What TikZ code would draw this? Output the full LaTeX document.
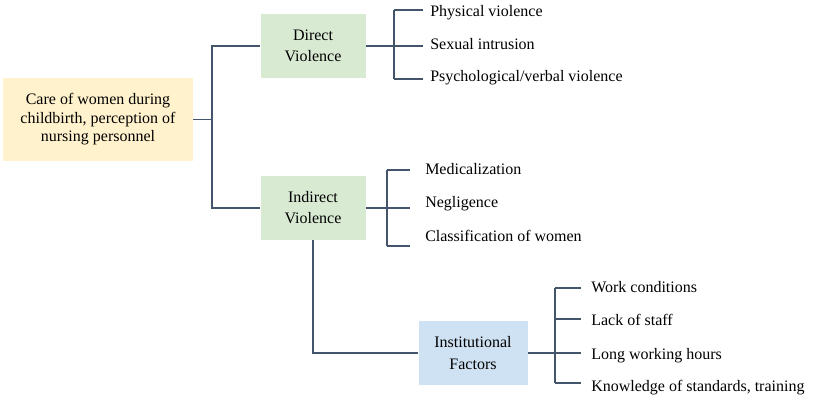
\documentclass[tikz,border=0pt]{standalone}
\usepackage{fontspec}
\setmainfont{Liberation Serif}
\usetikzlibrary{calc,positioning}
\definecolor{lnc}{HTML}{44546A}
\definecolor{rootf}{HTML}{FFF2CC}
\definecolor{viof}{HTML}{D9EAD3}
\definecolor{instf}{HTML}{CFE2F3}

\begin{document}
\begin{tikzpicture}[x=0.75pt, y=-0.75pt,
  box/.style={align=center, inner sep=0pt, minimum width=78.75pt, minimum height=48pt, font=\fontsize{12}{15.8}\selectfont},
  lf/.style={anchor=base west, inner sep=0pt, font=\fontsize{12}{14}\selectfont},
  ln/.style={draw=lnc, line width=1.3pt}]
\useasboundingbox (0,0) rectangle (817,402);
%main node
\node[box, fill=rootf, minimum width=142.5pt, minimum height=62.25pt, font=\fontsize{12}{13.9}\selectfont] (root) at (98,119.5) {Care of women during\\childbirth, perception of\\nursing personnel};
\node[box, fill=viof] (dv) at (313,46) {Direct\\Violence};
\node[box, fill=viof] (iv) at (313,208) {Indirect\\Violence};
\node[box, fill=instf, minimum width=81.75pt] (inst) at (473,353) {Institutional\\Factors};
\coordinate (rj) at (212,119.5);
\draw[ln] (root.east) -- (rj);
\draw[ln] (dv.west) -| (rj) |- (iv.west);
%direct violence
\coordinate (dj) at (394,46);
\draw[ln] (dv.east) -- (dj);
\draw[ln] (394,10) -- (394,79);
\foreach \y in {10,46,79} \draw[ln] (394,\y) -- (423,\y);
\path (430,17) node[lf] (pv) {Physical violence};
\path (430,50) node[lf] (si) {Sexual intrusion};
\path (430,82) node[lf] (pvv) {Psychological/verbal violence};
%indirect violence
\coordinate (ij) at (387,208);
\draw[ln] (iv.east) -- (ij);
\draw[ln] (387,170) -- (387,246);
\foreach \y in {170,208,246} \draw[ln] (387,\y) -- (410,\y);
\path (425,175) node[lf] (med) {Medicalization};
\path (425,208) node[lf] (neg) {Negligence};
\path (425,242) node[lf] (cls) {Classification of women};
%institutional factors
\draw[ln] (iv.south) |- (inst.west);
\coordinate (fj) at (555,353);
\draw[ln] (inst.east) -- (fj);
\draw[ln] (555,288) -- (555,383);
\foreach \y in {288,319,353,383} \draw[ln] (555,\y) -- (581,\y);
\path (591,293) node[lf] (wc) {Work conditions};
\path (591,326) node[lf] (ls) {Lack of staff};
\path (591,359) node[lf] (lwh) {Long working hours};
\path (591,392) node[lf] (kst) {Knowledge of standards, training};
\end{tikzpicture}
\end{document}
